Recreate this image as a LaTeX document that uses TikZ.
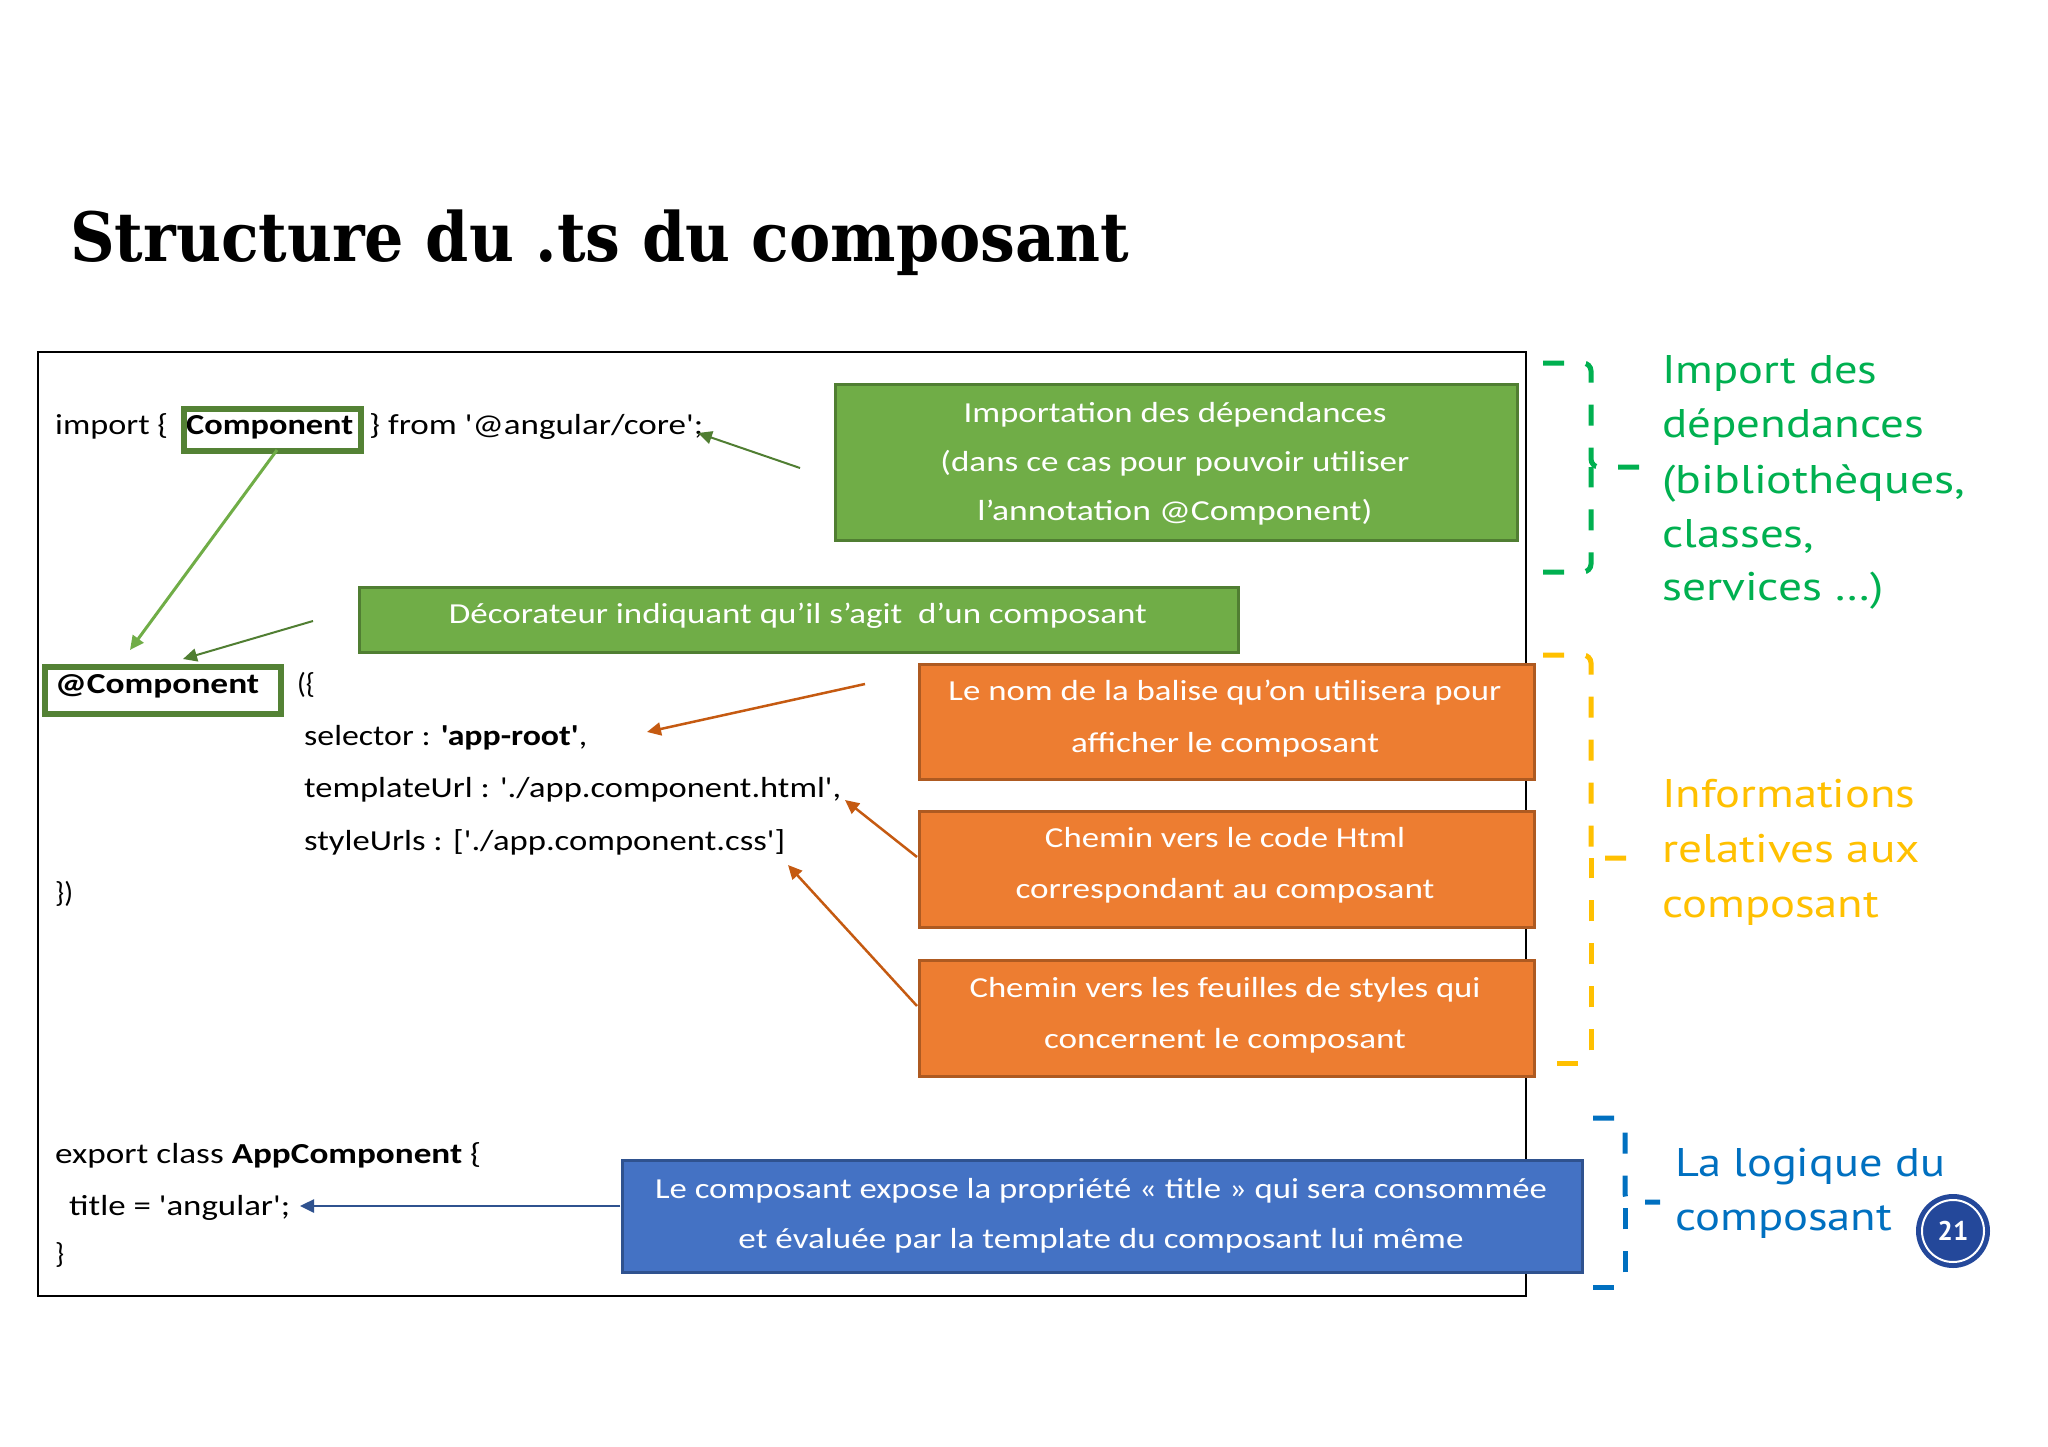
\documentclass[tikz,border=0pt]{standalone}
\usepackage{fontspec}
\usepackage{graphicx}
\usetikzlibrary{arrows.meta}
\newfontfamily\codefnt{Carlito}
\newfontfamily\sidefnt{PT Sans}
\newfontfamily\ttlfnt{DejaVu Serif}
\newcommand\fw[2]{\resizebox{#1pt}{\height}{#2}}
\definecolor{gfill}{HTML}{70AD47}
\definecolor{gdark}{HTML}{548235}
\definecolor{gline}{HTML}{507E32}
\definecolor{ofill}{HTML}{ED7D31}
\definecolor{odark}{HTML}{AE5A21}
\definecolor{oarrow}{HTML}{C55A11}
\definecolor{bfill}{HTML}{4472C4}
\definecolor{bdark}{HTML}{2F528F}
\definecolor{brgreen}{HTML}{00B050}
\definecolor{bryellow}{HTML}{FFC000}
\definecolor{brblue}{HTML}{0070C0}
\definecolor{pgblue}{HTML}{24489A}
\begin{document}
\begin{tikzpicture}[x=1pt,y=-1pt,
  txt/.style={inner sep=0pt, anchor=base west, font=\codefnt\fontsize{29}{34}\selectfont},
  btxt/.style={inner sep=0pt, anchor=base, text=white, font=\codefnt\fontsize{29}{34}\selectfont},
  stxt/.style={inner sep=0pt, anchor=base west, font=\sidefnt\fontsize{40}{48}\selectfont},
  boxg/.style={draw=gline, fill=gfill, line width=2.5pt, anchor=north west, inner sep=0pt},
  boxo/.style={draw=odark, fill=ofill, line width=2.5pt, anchor=north west, inner sep=0pt},
  boxb/.style={draw=bdark, fill=bfill, line width=2.5pt, anchor=north west, inner sep=0pt},
  hl/.style={draw=gdark, line width=5.5pt, anchor=north west, inner sep=0pt},
  tipA/.style={-{Triangle[length=14pt,width=13pt]}},
  arrg/.style={tipA, draw=gline, line width=2pt},
  arrlg/.style={tipA, draw=gfill, line width=3pt},
  arro/.style={tipA, draw=oarrow, line width=2.5pt},
  arrb/.style={tipA, draw=bdark, line width=2.5pt},
  brk/.style={line width=5pt, dash pattern=on 21pt off 22pt, rounded corners=8pt}
]
\useasboundingbox (0,0) rectangle (2048,1447);
\fill[white] (0,0) rectangle (2048,1447);

% title
\node[inner sep=0pt, anchor=base west, font=\ttlfnt\bfseries\fontsize{68}{70}\selectfont] (title) at (70,262) {\fw{1059}{Structure du .ts du composant}};

% main frame
\node[draw=black, line width=1.5pt, anchor=north west, minimum width=1488pt, minimum height=944pt, inner sep=0pt] (frame) at (37,351) {};

% import line
\node[txt] (l1a) at (55,434) {\fw{113}{import \{}};
\node[txt] (l1b) at (186,434) {\fw{167}{\bfseries Component}};
\node[hl, minimum width=177pt, minimum height=42pt] (compbox) at (181,406) {};
\node[txt] (l1c) at (369,434) {\fw{334}{\} from '@angular/core';}};

% green box 1
\node[boxg, minimum width=682pt, minimum height=156pt] (impbox) at (834,383) {};
\node[btxt] (imp1) at (1175,422) {\fw{423}{Importation des dépendances}};
\node[btxt] (imp2) at (1175,471) {\fw{469}{(dans ce cas pour pouvoir utiliser}};
\node[btxt] (imp3) at (1175,520) {\fw{395}{l’annotation @Component)}};

% decorator box
\node[boxg, minimum width=879pt, minimum height=65pt] (decbox) at (358,586) {};
\node[btxt] (dec1) at (798,623) {\fw{698}{Décorateur indiquant qu’il s’agit\ \ d’un composant}};

% @Component
\node[hl, minimum width=236pt, minimum height=47pt] (atbox) at (42,664) {};
\node[txt] (atc) at (55,693) {\fw{204}{\bfseries @Component}};
\node[txt] (paren) at (297,693) {(\{};
\node[txt] (sel) at (304,745) {\fw{283}{selector : \textbf{'app-root'},}};
\node[txt] (tpl) at (304,797) {\fw{537}{templateUrl : './app.component.html',}};
\node[txt] (sty) at (304,850) {\fw{481}{styleUrls : ['./app.component.css']}};
\node[txt] (close1) at (55,902) {\})};

% orange boxes
\node[boxo, minimum width=615pt, minimum height=115pt] (or1) at (918,663) {};
\node[btxt] (or1a) at (1225,700) {\fw{553}{Le nom de la balise qu’on utilisera pour}};
\node[btxt] (or1b) at (1225,752) {\fw{308}{afficher le composant}};
\node[boxo, minimum width=615pt, minimum height=116pt] (or2) at (918,810) {};
\node[btxt] (or2a) at (1225,847) {\fw{360}{Chemin vers le code Html}};
\node[btxt] (or2b) at (1225,898) {\fw{419}{correspondant au composant}};
\node[boxo, minimum width=615pt, minimum height=116pt] (or3) at (918,959) {};
\node[btxt] (or3a) at (1225,997) {\fw{511}{Chemin vers les feuilles de styles qui}};
\node[btxt] (or3b) at (1225,1048) {\fw{362}{concernent le composant}};

% export class
\node[txt] (exp) at (55,1163) {\fw{426}{export class \textbf{AppComponent} \{}};
\node[txt] (ttl) at (69,1215) {\fw{221}{title = 'angular';}};
\node[txt] (close2) at (55,1263) {\}};

% blue box
\node[boxb, minimum width=960pt, minimum height=112pt] (bbox) at (621,1159) {};
\node[btxt] (b1) at (1101,1198) {\fw{892}{Le composant expose la propriété « title » qui sera consommée}};
\node[btxt] (b2) at (1101,1248) {\fw{725}{et évaluée par la template du composant lui même}};

% arrows
\coordinate (a1s) at (800,468);
\coordinate (a1e) at (698,433);
\draw[arrg] (a1s) -- (a1e);
\coordinate (a2s) at (277,450);
\coordinate (a2e) at (130,650);
\draw[arrlg] (a2s) -- (a2e);
\coordinate (a3s) at (313,621);
\coordinate (a3e) at (183,659);
\draw[arrg] (a3s) -- (a3e);
\coordinate (o1s) at (865,684);
\coordinate (o1e) at (647,732);
\draw[arro] (o1s) -- (o1e);
\coordinate (o2s) at (917,857);
\coordinate (o2e) at (845,800);
\draw[arro] (o2s) -- (o2e);
\coordinate (o3s) at (917,1006);
\coordinate (o3e) at (788,865);
\draw[arro] (o3s) -- (o3e);
\coordinate (bas) at (620,1206);
\coordinate (bae) at (300,1206);
\draw[arrb] (bas) -- (bae);

% brackets
\draw[brk, brgreen] (1543,363) -| (1591,467) -- (1640,467);
\draw[brk, brgreen] (1543,572) -| (1591,467);
\draw[brk, bryellow] (1543,655) -| (1591,858) -- (1640,858);
\draw[brk, bryellow] (1557,1063) -| (1591,858);
\draw[brk, brblue] (1593,1118) -| (1625,1202) -- (1660,1202);
\draw[brk, brblue] (1593,1287) -| (1625,1202);

% side texts
\node[stxt, text=brgreen] (g1) at (1662,383) {\fw{215}{Import des}};
\node[stxt, text=brgreen] (g2) at (1662,437) {\fw{262}{dépendances}};
\node[stxt, text=brgreen] (g3) at (1662,493) {\fw{303}{(bibliothèques,}};
\node[stxt, text=brgreen] (g4) at (1662,547) {\fw{152}{classes,}};
\node[stxt, text=brgreen] (g5) at (1662,600) {\fw{222}{services …)}};
\node[stxt, text=bryellow] (y1) at (1662,807) {\fw{253}{Informations}};
\node[stxt, text=bryellow] (y2) at (1662,862) {\fw{258}{relatives aux}};
\node[stxt, text=bryellow] (y3) at (1662,917) {\fw{217}{composant}};
\node[stxt, text=brblue] (bl1) at (1675,1176) {\fw{270}{La logique du}};
\node[stxt, text=brblue] (bl2) at (1675,1230) {\fw{217}{composant}};

% page number
\node[circle, fill=pgblue, minimum size=74pt, inner sep=0pt] (pg) at (1953,1231) {};
\draw[white, line width=2pt] (pg.center) circle (31pt);
\node[inner sep=0pt, text=white, font=\sidefnt\bfseries\fontsize{27}{30}\selectfont] (pgn) at (pg.center) {21};
\end{tikzpicture}
\end{document}
